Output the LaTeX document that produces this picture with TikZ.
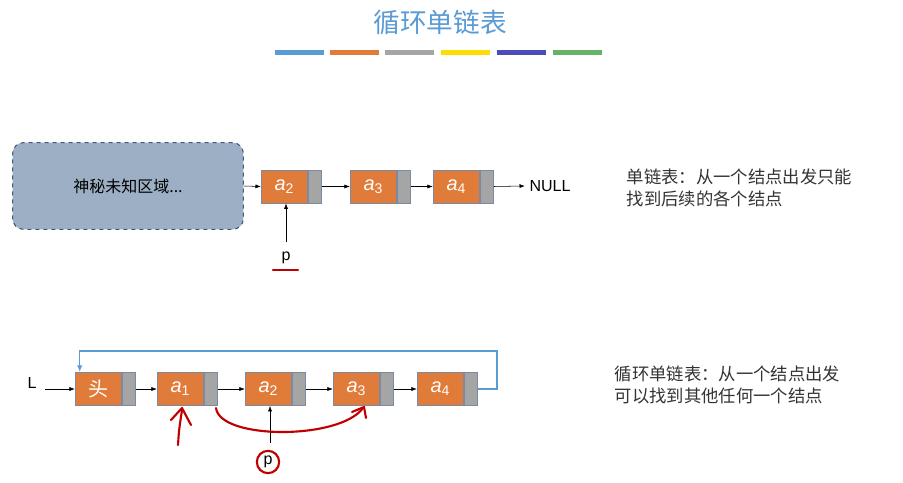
\documentclass[tikz,border=0pt]{standalone}
\usepackage{fontspec}
\setmainfont{Liberation Sans}
\newfontfamily\cjk{Noto Sans CJK SC}
\usetikzlibrary{arrows.meta}
\definecolor{nodeor}{HTML}{E07B39}
\definecolor{ptrgray}{HTML}{A5A5A5}
\definecolor{ttlblue}{HTML}{5B9BD5}
\definecolor{fogbox}{HTML}{9DAFC4}
\definecolor{boxedge}{HTML}{41587A}
\definecolor{penred}{HTML}{C00000}
\newcommand{\elem}[1]{\textit{a}\textsubscript{#1}}
\tikzset{
  every node/.style={font=\fontsize{12}{14}\selectfont},
  data/.style={draw=boxedge!70, fill=nodeor, minimum width=35pt, minimum height=25pt, inner sep=0pt, text=white, font=\fontsize{15}{18}\selectfont, anchor=east},
  ptr/.style={draw=boxedge!70, fill=ptrgray, minimum width=10pt, minimum height=25pt, inner sep=0pt, anchor=west},
  link/.style={-{Latex[length=4pt,width=3pt]}, thin},
  pen/.style={penred, line width=1.6pt, line cap=round, line join=round},
  note/.style={font=\cjk\fontsize{13}{16}\selectfont, anchor=west, align=left, text=black!80}
}
\begin{document}
\begin{tikzpicture}[x=0.75pt, y=-0.75pt]
\useasboundingbox (0,0) rectangle (903,482);
% title
\node (title) at (440,22) {\cjk\fontsize{20}{24}\selectfont\color{ttlblue}循环单链表};
\foreach \xa/\c in {275/ttlblue,330/nodeor,385/ptrgray,441/yellow!80!orange,497/blue!60!black!70,553/green!50!black!60}
  \fill[\c] (\xa,50) rectangle ++(49,5);
% top row
\node[draw=boxedge, dashed, thick, rounded corners=8pt, fill=fogbox, minimum width=173pt, minimum height=65pt] (fog) at (128,186) {\cjk\fontsize{12}{14}\selectfont 神秘未知区域...};
\node[data] (ta2) at (308,186.5) {\elem{2}};
\node[ptr] (tp2) at (ta2.east) {};
\node[data] (ta3) at (397,186.5) {\elem{3}};
\node[ptr] (tp3) at (ta3.east) {};
\node[data] (ta4) at (480,186.5) {\elem{4}};
\node[ptr] (tp4) at (ta4.east) {};
\node (null) at (550,186) {NULL};
\draw[link] (fog.east) -- (ta2.west);
\draw[link] (tp2.east) -- (ta3.west);
\draw[link] (tp3.east) -- (ta4.west);
\draw[link] (tp4.east) -- (null.west);
\node (tp) at (286,258) {p};
\draw[link] (tp.north) ++(0,-5) -- (ta2.south -| tp.north);
\draw[pen] (273,270) -- (298,270);
\node[note] (tnote) at (622,188) {单链表：从一个结点出发只能\\找到后续的各个结点};
% bottom row
\node (L) at (32,383) {L};
\node[data] (h) at (122,389) {\cjk 头};
\node[ptr] (hp) at (h.east) {};
\node[data] (a1) at (204,389) {\elem{1}};
\node[ptr] (p1) at (a1.east) {};
\node[data] (a2) at (292,389) {\elem{2}};
\node[ptr] (p2) at (a2.east) {};
\node[data] (a3) at (380,389) {\elem{3}};
\node[ptr] (p3) at (a3.east) {};
\node[data] (a4) at (464,389) {\elem{4}};
\node[ptr] (p4) at (a4.east) {};
\draw[link] (L.east) ++(4,6) -- (h.west);
\draw[link] (hp.east) -- (a1.west);
\draw[link] (p1.east) -- (a2.west);
\draw[link] (p2.east) -- (a3.west);
\draw[link] (p3.east) -- (a4.west);
\coordinate (c1) at (497,351);
\draw[draw=ttlblue, thick, -{Latex[length=5pt,width=4pt]}] (p4.east) -| (c1) -| ([xshift=-14pt]h.north);
\node[draw=penred, line width=1.6pt, circle, inner sep=2pt] (bp) at (268,462) {p};
\draw[link] (270,443) -- (a2.south -| 270,0);
\node[note] (bnote) at (610,385) {循环单链表：从一个结点出发\\可以找到其他任何一个结点};
% handwriting
\draw[pen] (178,445) .. controls (179,430) .. (182,410);
\draw[pen] (171,420) -- (182,408) -- (191,425);
\draw[pen] (216,408) .. controls (220,440) and (340,440) .. (363,408);
\draw[pen] (352,412) -- (364,407) -- (366,418);
\end{tikzpicture}
\end{document}
